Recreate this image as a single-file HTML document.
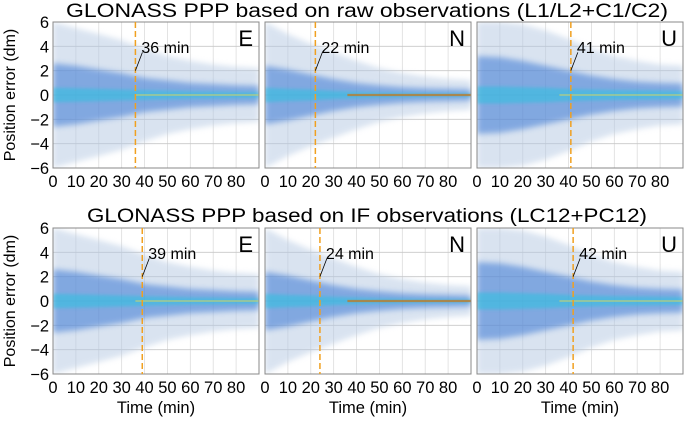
<!DOCTYPE html>
<html><head><meta charset="utf-8"><style>
html,body{margin:0;padding:0;background:#fff;}
svg{display:block;font-family:"Liberation Sans",Arial,sans-serif;}
</style></head><body>
<svg id="chart" width="685" height="421" viewBox="0 0 685 421" xmlns="http://www.w3.org/2000/svg">
<defs>
<filter id="blur" x="-10%" y="-30%" width="120%" height="160%"><feGaussianBlur stdDeviation="3"/></filter>
<filter id="blur2" x="-10%" y="-30%" width="120%" height="160%"><feGaussianBlur stdDeviation="1.5"/></filter>
</defs>
<text x="367" y="17" font-size="19" text-anchor="middle" textLength="602" lengthAdjust="spacingAndGlyphs">GLONASS PPP based on raw observations (L1/L2+C1/C2)</text>
<text x="367" y="222" font-size="19" text-anchor="middle" textLength="560" lengthAdjust="spacingAndGlyphs">GLONASS PPP based on IF observations (LC12+PC12)</text>
<text transform="translate(15,95) rotate(-90)" font-size="16" text-anchor="middle">Position error (dm)</text>
<text transform="translate(15,301) rotate(-90)" font-size="16" text-anchor="middle">Position error (dm)</text>
<g id="panels"></g>
</svg>
<script>
const times = [0,10,20,30,40,50,60,70,80,90];
const xTicks = [0,10,20,30,40,50,60,70,80];
const yTicks = [-6,-4,-2,0,2,4,6];
const components = ["E","N","U","E","N","U"];
const convergence = [36,22,41,39,24,42];
const outerE = [6,5.5,5,4.5,3.8,3.2,2.8,2.5,2.3,2.2];
const midE = [2.6,2.4,2.1,1.8,1.4,1.2,1.0,0.9,0.8,0.75];
const coreE = [0.6,0.55,0.5,0.45,0.4,0.35,0.3,0.28,0.26,0.25];
const outerN = [6,5,4.2,3.5,2.8,2.2,1.8,1.5,1.3,1.2];
const midN = [2.4,2.1,1.7,1.3,1.0,0.8,0.65,0.55,0.5,0.45];
const coreN = [0.6,0.5,0.45,0.35,0.28,0.22,0.18,0.15,0.14,0.13];
const outerU = [6,6,5.8,5.3,4.6,3.8,3.2,2.8,2.5,2.4];
const midU = [3.2,3.1,2.8,2.4,2.0,1.6,1.3,1.1,1.0,0.95];
const coreU = [0.7,0.7,0.65,0.6,0.5,0.45,0.4,0.38,0.35,0.33];
const bands = {E:[outerE,midE,coreE],N:[outerN,midN,coreN],U:[outerU,midU,coreU]};

const NS="http://www.w3.org/2000/svg";
const root=document.getElementById('panels');
const colX=[53,265,477], rowY=[22,228], W=206, H=146;
function mk(tag,attrs,parent){const e=document.createElementNS(NS,tag);for(const k in attrs)e.setAttribute(k,attrs[k]);parent.appendChild(e);return e;}

components.forEach((comp,i)=>{
  const x0=colX[i%3], y0=rowY[Math.floor(i/3)];
  const sx=t=>x0+t/90*W;
  const sy=v=>y0+(6-v)/12*H;
  const g=mk('g',{},root);
  
  
  const cid='clip'+i;
  const cp=mk('clipPath',{id:cid},g); mk('rect',{x:x0,y:y0,width:W,height:H},cp);
  mk('rect',{x:x0,y:y0,width:W,height:H,fill:'#fff'},g);
  xTicks.forEach(t=>{if(t>0){const l=mk('line',{x1:sx(t),x2:sx(t),y1:y0,y2:y0+H,stroke:'#dcdcdc','stroke-width':0.8},g);
    }});
  yTicks.forEach(v=>{if(v>-6&&v<6){const l=mk('line',{x1:x0,x2:x0+W,y1:sy(v),y2:sy(v),stroke:'#c8c8c8','stroke-width':0.8},g);
    }});
  const cl=mk('g',{'clip-path':'url(#'+cid+')'},g);
  const b=bands[comp];
  const fills=[['#b4c8e2',0.5,'blur'],['#3b78d4',0.55,'blur'],['#30c0e0',0.6,'blur2']];
  b.forEach((arr,k)=>{
    let d='M'+sx(times[0])+','+sy(arr[0]);
    times.forEach((t,j)=>{d+=' L'+sx(t)+','+sy(arr[j]);});
    for(let j=times.length-1;j>=0;j--)d+=' L'+sx(times[j])+','+sy(-arr[j]);
    d+='Z';
    const p=mk('path',{d:d,fill:fills[k][0],opacity:fills[k][1],filter:'url(#'+fills[k][2]+')'},cl);
    
    
  });
  const cc=comp==='N'?'#c07a20':'#d8d860';
  const cline=mk('line',{x1:x0+W*0.4,x2:x0+W,y1:sy(0),y2:sy(0),stroke:cc,'stroke-width':comp==='N'?2.2:1.3,opacity:0.75},cl);
  
  
  const fr=mk('rect',{x:x0,y:y0,width:W,height:H,fill:'none',stroke:'#888','stroke-width':1},g);
  
  const ct=convergence[i];
  const cvl=mk('line',{x1:sx(ct),x2:sx(ct),y1:y0,y2:y0+H,stroke:'#f0a020','stroke-width':1.5,'stroke-dasharray':'6,3'},g);
  
  const ld=mk('line',{x1:sx(ct),y1:sy(2),x2:sx(ct)+7,y2:sy(3.5),stroke:'#000','stroke-width':0.8},g);
  
  const at=mk('text',{x:sx(ct)+6,y:sy(3.6)+2,'font-size':16},g);at.textContent=ct+' min';
  
  const cpl=mk('text',{x:x0+W-6,y:y0+24,'font-size':22,'text-anchor':'end'},g);cpl.textContent=comp;
  
  xTicks.forEach(t=>{const tx=mk('text',{x:sx(t),y:y0+H+19,'font-size':16.5,'text-anchor':'middle'},g);tx.textContent=t;
    });
  if(i%3===0){yTicks.forEach(v=>{const ty=mk('text',{x:x0-4,y:sy(v)+6,'font-size':16.5,'text-anchor':'end'},g);ty.textContent=(v<0?'\u2212'+(-v):v);
    });}
  if(i>=3){const xt=mk('text',{x:x0+W/2,y:413,'font-size':16.5,'text-anchor':'middle'},g);xt.textContent='Time (min)';
    }
});
</script>
</body></html>
